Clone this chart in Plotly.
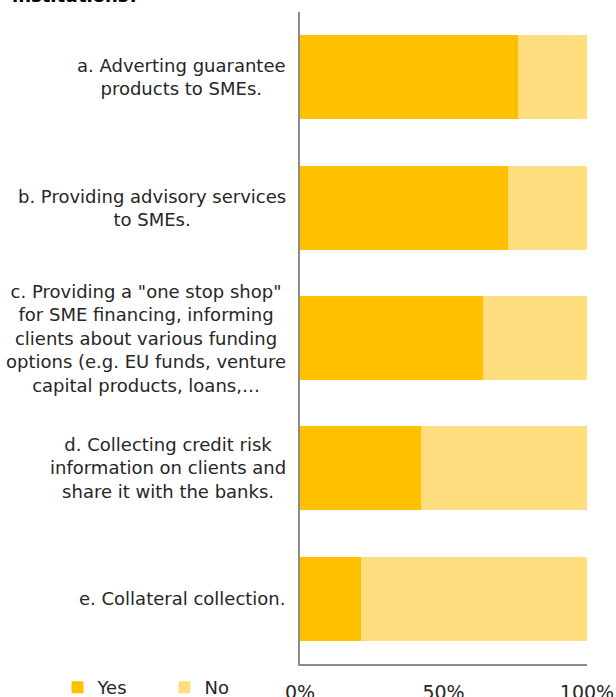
import plotly.graph_objects as go

categories = [
    "a. Adverting guarantee<br>products to SMEs.",
    "b. Providing advisory services<br>to SMEs.",
    "c. Providing a \"one stop shop\"<br>for SME financing, informing<br>clients about various funding<br>options (e.g. EU funds, venture<br>capital products, loans,…",
    "d. Collecting credit risk<br>information on clients and<br>share it with the banks.",
    "e. Collateral collection.",
]
cat_keys = ["a", "b", "c", "d", "e"]
yes_values = [75.8, 72.6, 63.6, 42.3, 21.1]
no_values = [round(100 - v, 1) for v in yes_values]
tick_vals = [0, 50, 100]
tick_text = ["0%", "50%", "100%"]

FONT = "DejaVu Sans"
TEXT = "#262626"

fig = go.Figure()
fig.add_trace(go.Bar(y=cat_keys, x=yes_values, name="Yes", orientation="h",
                     marker=dict(color="#FFC000", line=dict(width=0))))
fig.add_trace(go.Bar(y=cat_keys, x=no_values, name="No", orientation="h",
                     marker=dict(color="#FFDE80", line=dict(width=0))))

for key, label in zip(cat_keys, categories):
    fig.add_annotation(x=0, y=key, xref="x", yref="y", text=label,
                       showarrow=False, xanchor="right", yanchor="middle",
                       align="center", xshift=-12,
                       font=dict(family=FONT, size=18, color=TEXT))

fig.add_annotation(x=0, y=1.0, xref="paper", yref="paper",
                   text="<b>institutions?</b>", showarrow=False,
                   xanchor="left", yanchor="bottom", xshift=-300 + 10, yshift=4,
                   font=dict(family=FONT, size=18, color="#000000"))

fig.update_layout(
    width=616, height=697,
    margin=dict(l=300, r=28.5, t=11.5, b=33, autoexpand=False),
    barmode="stack", bargap=0.357,
    plot_bgcolor="white", paper_bgcolor="white",
    font=dict(family=FONT, color=TEXT, size=18),
    showlegend=True,
    legend=dict(orientation="h", x=-0.845, xanchor="left", y=-0.036,
                yanchor="middle", font=dict(family=FONT, size=18, color=TEXT),
                entrywidth=62, entrywidthmode="pixels",
                bgcolor="rgba(0,0,0,0)", traceorder="normal",
                itemclick=False),
    xaxis=dict(range=[0, 100], tickvals=tick_vals, ticktext=tick_text,
               showgrid=False, zeroline=False, showline=True,
               linecolor="#8c8c8c", linewidth=2, ticks="",
               ticklabelstandoff=10, automargin=False,
               tickfont=dict(family=FONT, size=19, color=TEXT)),
    yaxis=dict(categoryorder="array", categoryarray=cat_keys,
               autorange="reversed", showticklabels=False, automargin=False,
               showgrid=False, zeroline=False, showline=True,
               linecolor="#8c8c8c", linewidth=2, ticks=""),
)

fig.write_html("out.html", config={"displayModeBar": False},
               post_script="document.body.style.margin='0';document.body.style.overflow='hidden';")
